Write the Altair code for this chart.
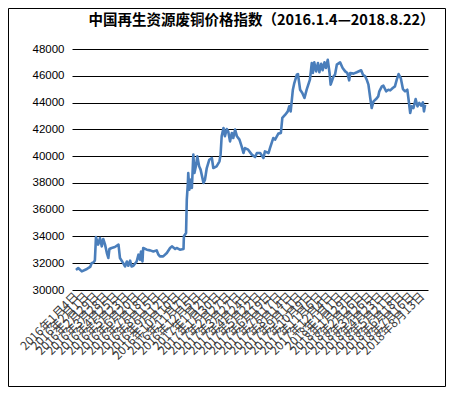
import altair as alt
import pandas as pd

TITLE = "中国再生资源废铜价格指数（2016.1.4—2018.8.22）"

DATES = [
    "2016-01-04", "2016-01-10", "2016-01-20", "2016-02-03", "2016-02-12", "2016-02-16", "2016-02-21", "2016-02-25", "2016-02-28", "2016-03-05",
    "2016-03-10", "2016-03-15", "2016-03-19", "2016-03-24", "2016-03-29", "2016-04-02", "2016-04-05", "2016-04-11", "2016-04-20", "2016-04-30",
    "2016-05-04", "2016-05-13", "2016-05-18", "2016-05-23", "2016-05-27", "2016-06-01", "2016-06-05", "2016-06-10", "2016-06-19", "2016-06-24",
    "2016-06-28", "2016-07-01", "2016-07-05", "2016-07-07", "2016-07-17", "2016-07-26", "2016-08-04", "2016-08-13", "2016-08-18", "2016-08-22",
    "2016-08-31", "2016-09-10", "2016-09-19", "2016-09-24", "2016-10-03", "2016-10-07", "2016-10-16", "2016-10-26", "2016-10-27", "2016-11-02",
    "2016-11-04", "2016-11-07", "2016-11-08", "2016-11-11", "2016-11-15", "2016-11-18", "2016-11-22", "2016-11-25", "2016-11-29", "2016-12-03",
    "2016-12-08", "2016-12-12", "2016-12-20", "2016-12-24", "2016-12-29", "2017-01-05", "2017-01-12", "2017-01-16", "2017-01-25", "2017-02-02",
    "2017-02-05", "2017-02-08", "2017-02-13", "2017-02-17", "2017-02-22", "2017-02-26", "2017-03-03", "2017-03-08", "2017-03-12", "2017-03-17",
    "2017-03-22", "2017-03-29", "2017-04-04", "2017-04-09", "2017-04-13", "2017-04-22", "2017-05-02", "2017-05-11", "2017-05-16", "2017-05-25",
    "2017-06-03", "2017-06-07", "2017-06-17", "2017-06-21", "2017-06-30", "2017-07-05", "2017-07-14", "2017-07-21", "2017-07-25", "2017-08-02",
    "2017-08-09", "2017-08-13", "2017-08-17", "2017-08-23", "2017-08-27", "2017-09-03", "2017-09-06", "2017-09-12", "2017-09-18", "2017-09-24",
    "2017-09-30", "2017-10-09", "2017-10-14", "2017-10-17", "2017-10-21", "2017-10-26", "2017-10-31", "2017-11-04", "2017-11-09", "2017-11-13",
    "2017-11-18", "2017-11-22", "2017-11-27", "2017-12-02", "2017-12-05", "2017-12-13", "2017-12-17", "2017-12-22", "2017-12-31", "2018-01-07",
    "2018-01-14", "2018-01-20", "2018-01-25", "2018-01-28", "2018-02-06", "2018-02-15", "2018-02-27", "2018-03-04", "2018-03-10", "2018-03-15",
    "2018-03-19", "2018-03-24", "2018-03-28", "2018-04-02", "2018-04-09", "2018-04-15", "2018-04-18", "2018-04-25", "2018-04-29", "2018-05-07",
    "2018-05-13", "2018-05-18", "2018-05-25", "2018-05-31", "2018-06-05", "2018-06-10", "2018-06-16", "2018-06-22", "2018-06-28", "2018-07-04",
    "2018-07-07", "2018-07-12", "2018-07-16", "2018-07-21", "2018-07-27", "2018-08-01", "2018-08-06", "2018-08-11", "2018-08-16", "2018-08-19",
    "2018-08-22",
]

VALUES = [
    31500, 31640, 31390, 31570, 31720, 32000, 32060, 32210, 33950, 33390,
    33880, 33260, 33810, 33390, 32760, 32390, 33060, 33140, 33210, 33390,
    32390, 32010, 31760, 32130, 31810, 32190, 31760, 31810, 32130, 32640,
    32260, 32880, 32130, 33140, 33010, 32960, 32880, 32960, 32640, 32510,
    32510, 32760, 33140, 33260, 33060, 33140, 33010, 33060, 34010, 34260,
    36750, 37990, 38740, 37490, 38240, 37620, 40110, 38740, 39240, 39980,
    39240, 38990, 37990, 38240, 39110, 39730, 39860, 39110, 39240, 39610,
    40110, 41480, 42100, 41480, 42020, 41850, 41100, 41730, 41350, 41980,
    41480, 41230, 40730, 40230, 40600, 40480, 40110, 39930, 40230, 40230,
    39860, 40350, 40230, 40600, 41350, 41230, 41680, 41730, 42850, 43090,
    43340, 43720, 43340, 44960, 45460, 46080, 46130, 44960, 44710, 44340,
    44960, 45710, 46950, 46210, 47000, 46330, 46950, 46260, 46900, 46410,
    47000, 46580, 47200, 46210, 45340, 45960, 46080, 46830, 47000, 46580,
    46330, 46210, 45660, 46210, 46160, 46260, 46410, 46080, 45960, 45660,
    45340, 44340, 43590, 44090, 44260, 44460, 44840, 45210, 45260, 44840,
    44960, 44910, 45090, 45210, 45710, 46130, 45830, 45010, 44840, 44960,
    44340, 43220, 43720, 43590, 44260, 43720, 43970, 43770, 44010, 43340,
    43840,
]

TICK_DATES = [
    "2016-01-04", "2016-02-01", "2016-02-29", "2016-03-28", "2016-04-25", "2016-05-23", "2016-06-20",
    "2016-07-18", "2016-08-15", "2016-09-12", "2016-10-10", "2016-11-07", "2016-12-05", "2017-01-02",
    "2017-01-30", "2017-02-27", "2017-03-27", "2017-04-24", "2017-05-22", "2017-06-19", "2017-07-17",
    "2017-08-14", "2017-09-11", "2017-10-09", "2017-11-06", "2017-12-04", "2018-01-01", "2018-01-29",
    "2018-02-26", "2018-03-26", "2018-04-23", "2018-05-21", "2018-06-18", "2018-07-16", "2018-08-13",
]

X_DOMAIN = ["2015-12-24", "2018-08-30"]
Y_TICKS = [30000, 32000, 34000, 36000, 38000, 40000, 42000, 44000, 46000, 48000]


def ms(d):
    return int(pd.Timestamp(d, tz="UTC").value // 10**6)


df = pd.DataFrame({"date": DATES, "value": VALUES})

line = alt.Chart(df).mark_line(color="#4A7EBB", strokeWidth=2.6, strokeJoin="round").encode(
    x=alt.X(
        "date:T",
        scale=alt.Scale(type="utc", domain=[ms(X_DOMAIN[0]), ms(X_DOMAIN[1])]),
        axis=alt.Axis(
            values=[ms(d) for d in TICK_DATES],
            labelExpr="utcFormat(datum.value, '%Y年%-m月%-d日')",
            labelAngle=315,
            labelAlign="right",
            labelBaseline="middle",
            labelPadding=4,
            labelFont="Noto Sans CJK SC",
            labelFontSize=12,
            labelColor="#3a3a3a",
            labelOverlap=False,
            ticks=False,
            domain=False,
            grid=False,
            title=None,
        ),
    ),
    y=alt.Y(
        "value:Q",
        scale=alt.Scale(domain=[30000, 48000], nice=False, zero=False),
        axis=alt.Axis(
            values=Y_TICKS,
            format="d",
            grid=True,
            gridColor="black",
            gridWidth=1,
            ticks=False,
            domain=False,
            labelPadding=8,
            labelFont="Liberation Sans",
            labelFontSize=11.5,
            labelColor="black",
            title=None,
        ),
    ),
)

border = alt.Chart(alt.Data(values=[{"a": 1}])).mark_rect(
    fillOpacity=0, stroke="black", strokeWidth=1
).encode(
    x=alt.value(-63.5), x2=alt.value(373.5), y=alt.value(-40.5), y2=alt.value(337.5)
)

title = alt.Chart(alt.Data(values=[{"t": TITLE}])).mark_text(
    font="Noto Sans CJK SC", fontSize=14.5, fontWeight="bold", align="center",
    baseline="middle", color="black"
).encode(x=alt.value(189.5), y=alt.value(-28), text="t:N")

chart = alt.layer(border, line, title).properties(
    width=356,
    height=241,
    padding={"left": 64, "top": 41, "right": 20, "bottom": 100},
    autosize=alt.AutoSizeParams(type="none"),
).configure_view(strokeWidth=0)

chart.save("out.html", embed_options={"renderer": "svg", "actions": False})
